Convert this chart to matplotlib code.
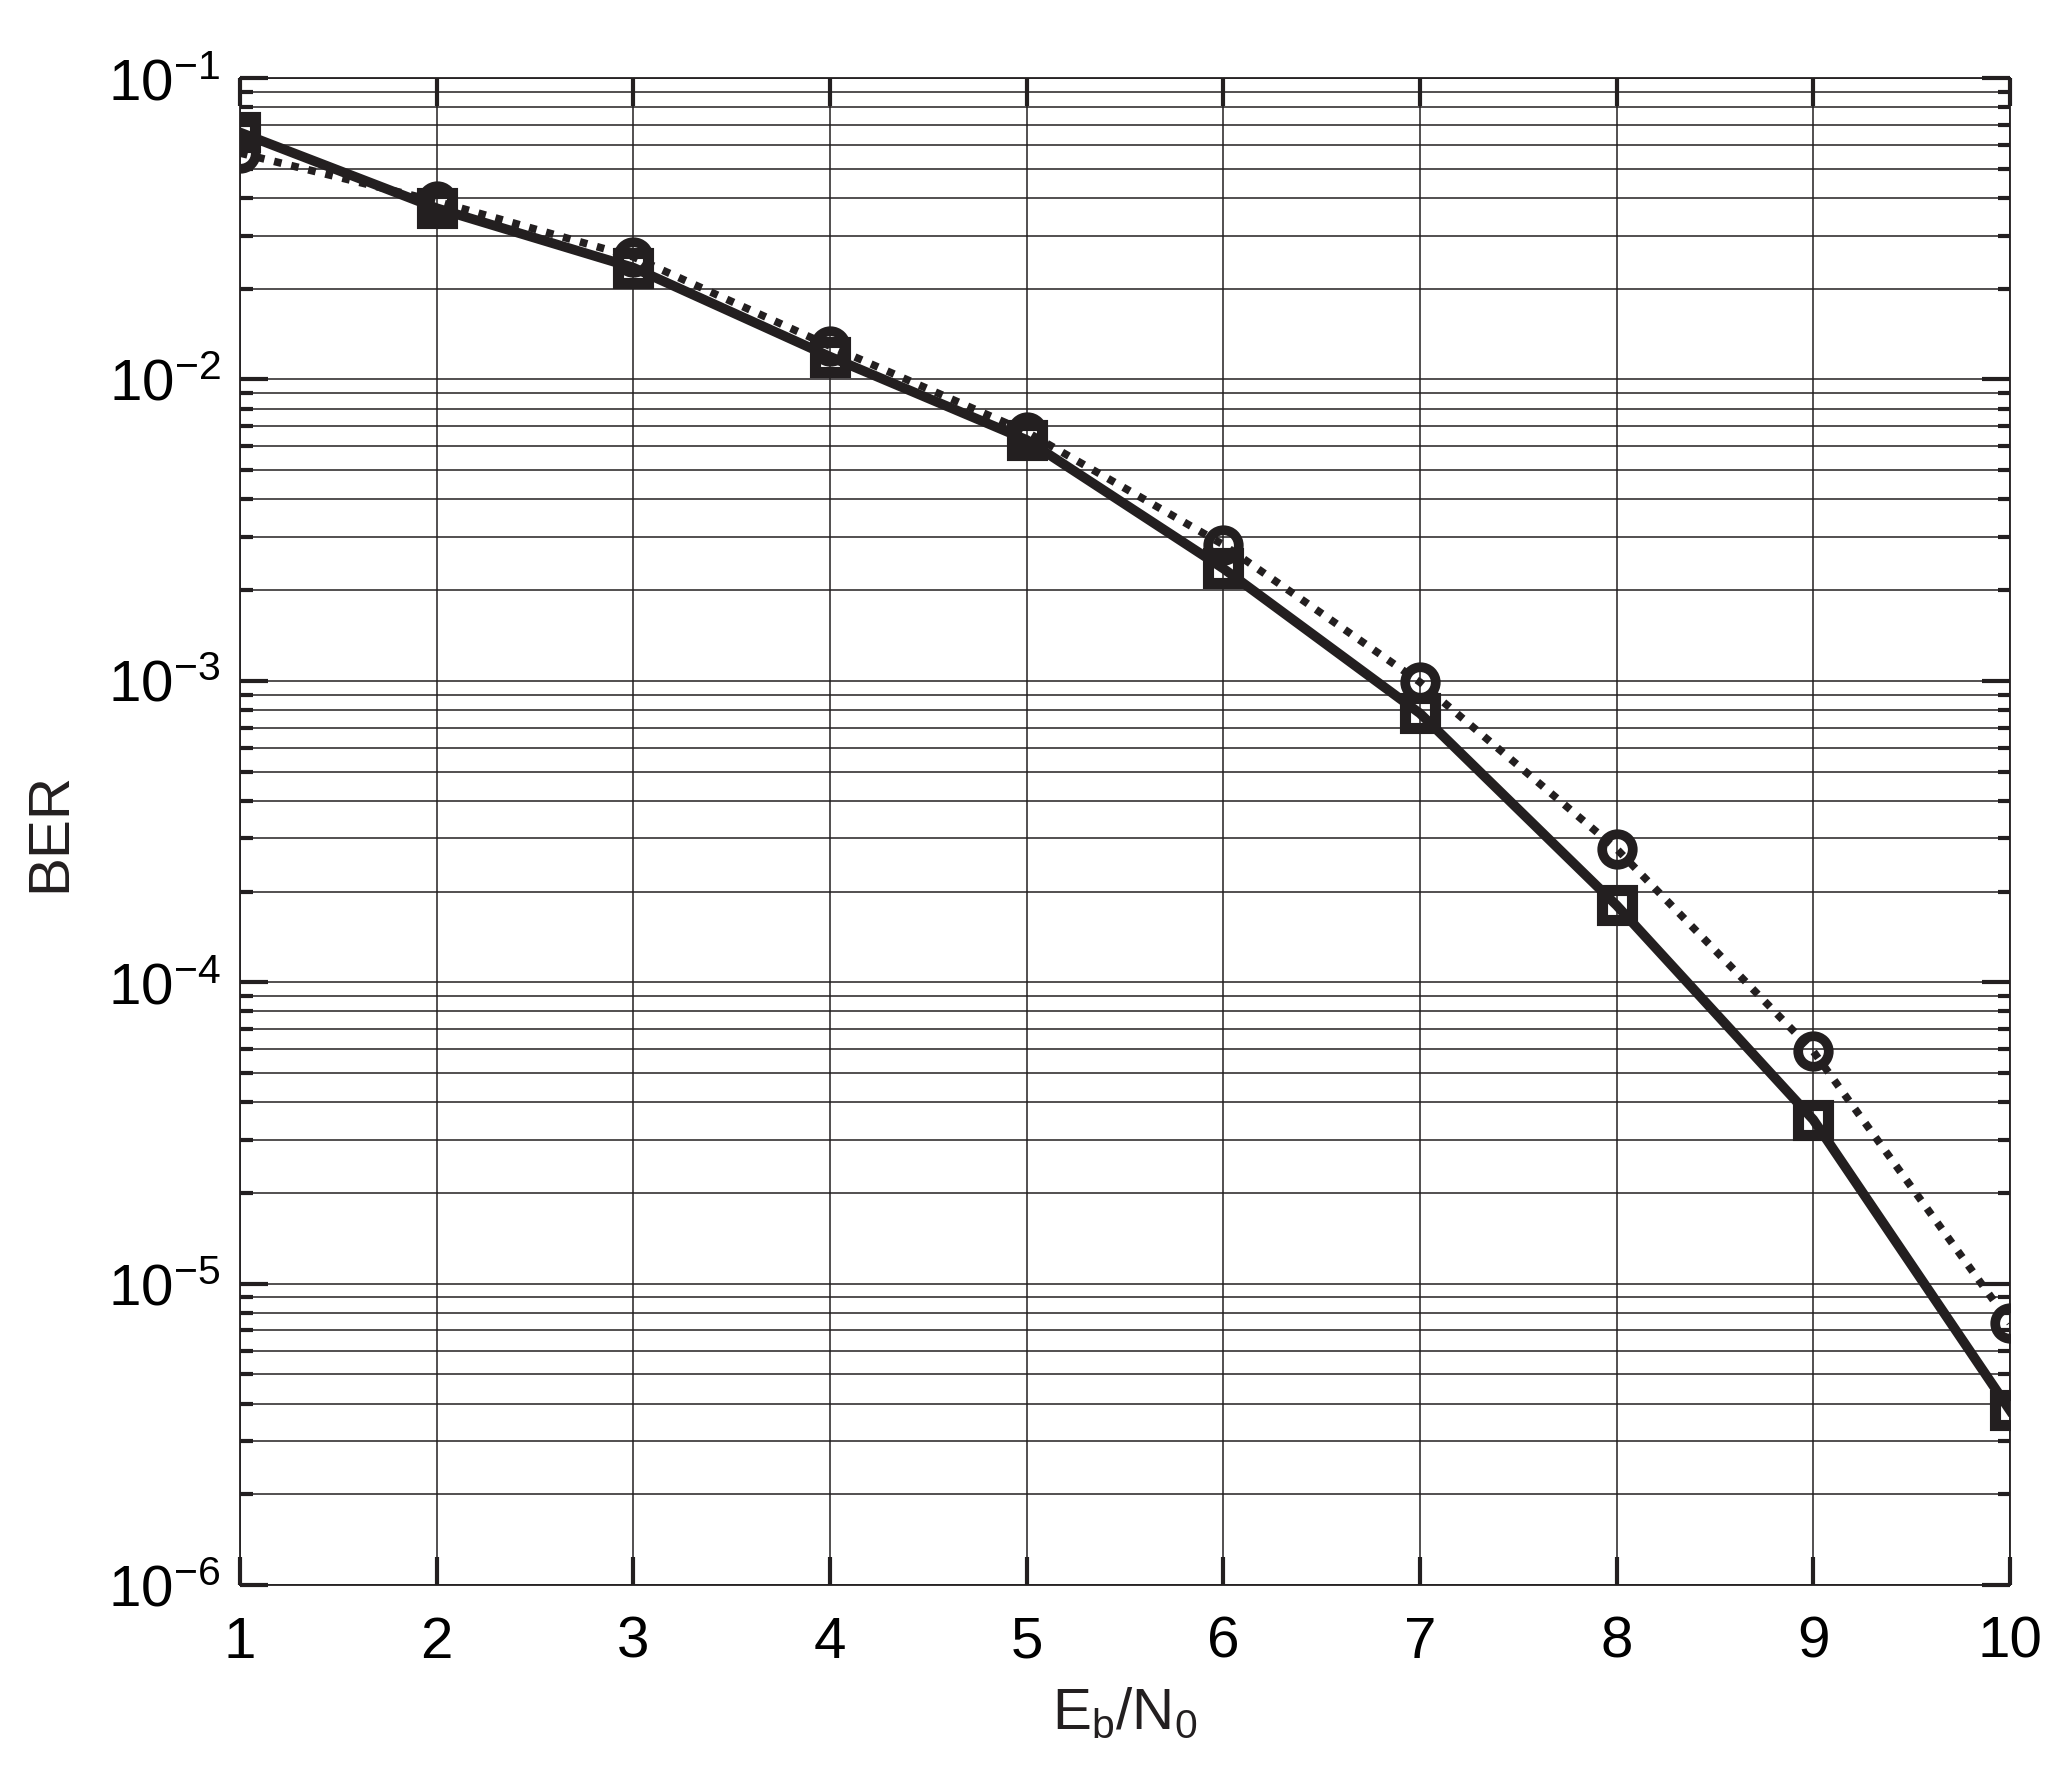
import numpy as np
import matplotlib
matplotlib.use('Agg')
import matplotlib.pyplot as plt
from matplotlib.ticker import LogLocator, FuncFormatter, NullFormatter

plt.rcParams['font.family'] = ['Liberation Sans', 'DejaVu Sans']
plt.rcParams['mathtext.fontset'] = 'custom'
plt.rcParams['mathtext.rm'] = 'Liberation Sans'
plt.rcParams['mathtext.it'] = 'Liberation Sans'
plt.rcParams['mathtext.default'] = 'regular'
plt.rcParams['axes.unicode_minus'] = False

# data
ebn0 = [1, 2, 3, 4, 5, 6, 7, 8, 9, 10]
ber_square = [0.066, 0.037, 0.0235, 0.0119, 0.0063, 0.00236, 7.8e-4, 1.8e-4, 3.5e-5, 3.8e-6]
ber_circle = [0.0564, 0.039, 0.0255, 0.0129, 0.0067, 0.00283, 9.9e-4, 2.77e-4, 5.9e-5, 7.4e-6]

ink = '#231f20'

fig = plt.figure(figsize=(20.67, 17.82), dpi=100)
ax = fig.add_axes([0.1161, 0.1105, 0.8563, 0.8457])

ax.semilogy(ebn0, ber_circle, color=ink, lw=5.5, linestyle=(0, (1, 1.3)),
            marker='o', ms=22, mfc='none', mec=ink, mew=7, zorder=3)
ax.semilogy(ebn0, ber_square, color=ink, lw=7, linestyle='-',
            marker='s', ms=21, mfc='none', mec=ink, mew=8, zorder=4)

ax.set_xlim(1, 10)
ax.set_ylim(1e-6, 1e-1)
ax.set_xticks(ebn0)
ax.yaxis.set_major_locator(LogLocator(base=10, numticks=10))
ax.yaxis.set_minor_locator(LogLocator(base=10, subs=np.arange(2, 10), numticks=100))
ax.yaxis.set_major_formatter(FuncFormatter(lambda v, p: r'$10^{-%d}$' % round(-np.log10(v))))
ax.yaxis.set_minor_formatter(NullFormatter())

ax.grid(True, which='major', axis='both', color=ink, lw=1.1)
ax.grid(True, which='minor', axis='y', color=ink, lw=1.1)

ax.tick_params(which='both', direction='in', top=True, right=True, color=ink)
ax.tick_params(which='major', length=20, width=3, labelsize=42, pad=22)
ax.tick_params(axis='y', which='major', pad=14)
ax.tick_params(which='minor', length=9, width=3)
for s in ax.spines.values():
    s.set_color(ink)
    s.set_linewidth(1.3)

ax.set_xlabel(r'E$_\mathrm{b}$/N$_0$', fontsize=42, color=ink, labelpad=12)
ax.set_ylabel('BER', fontsize=42, color=ink)
ax.yaxis.set_label_coords(-0.092, 0.5)

fig.savefig('out.png', dpi=100, facecolor='white')
